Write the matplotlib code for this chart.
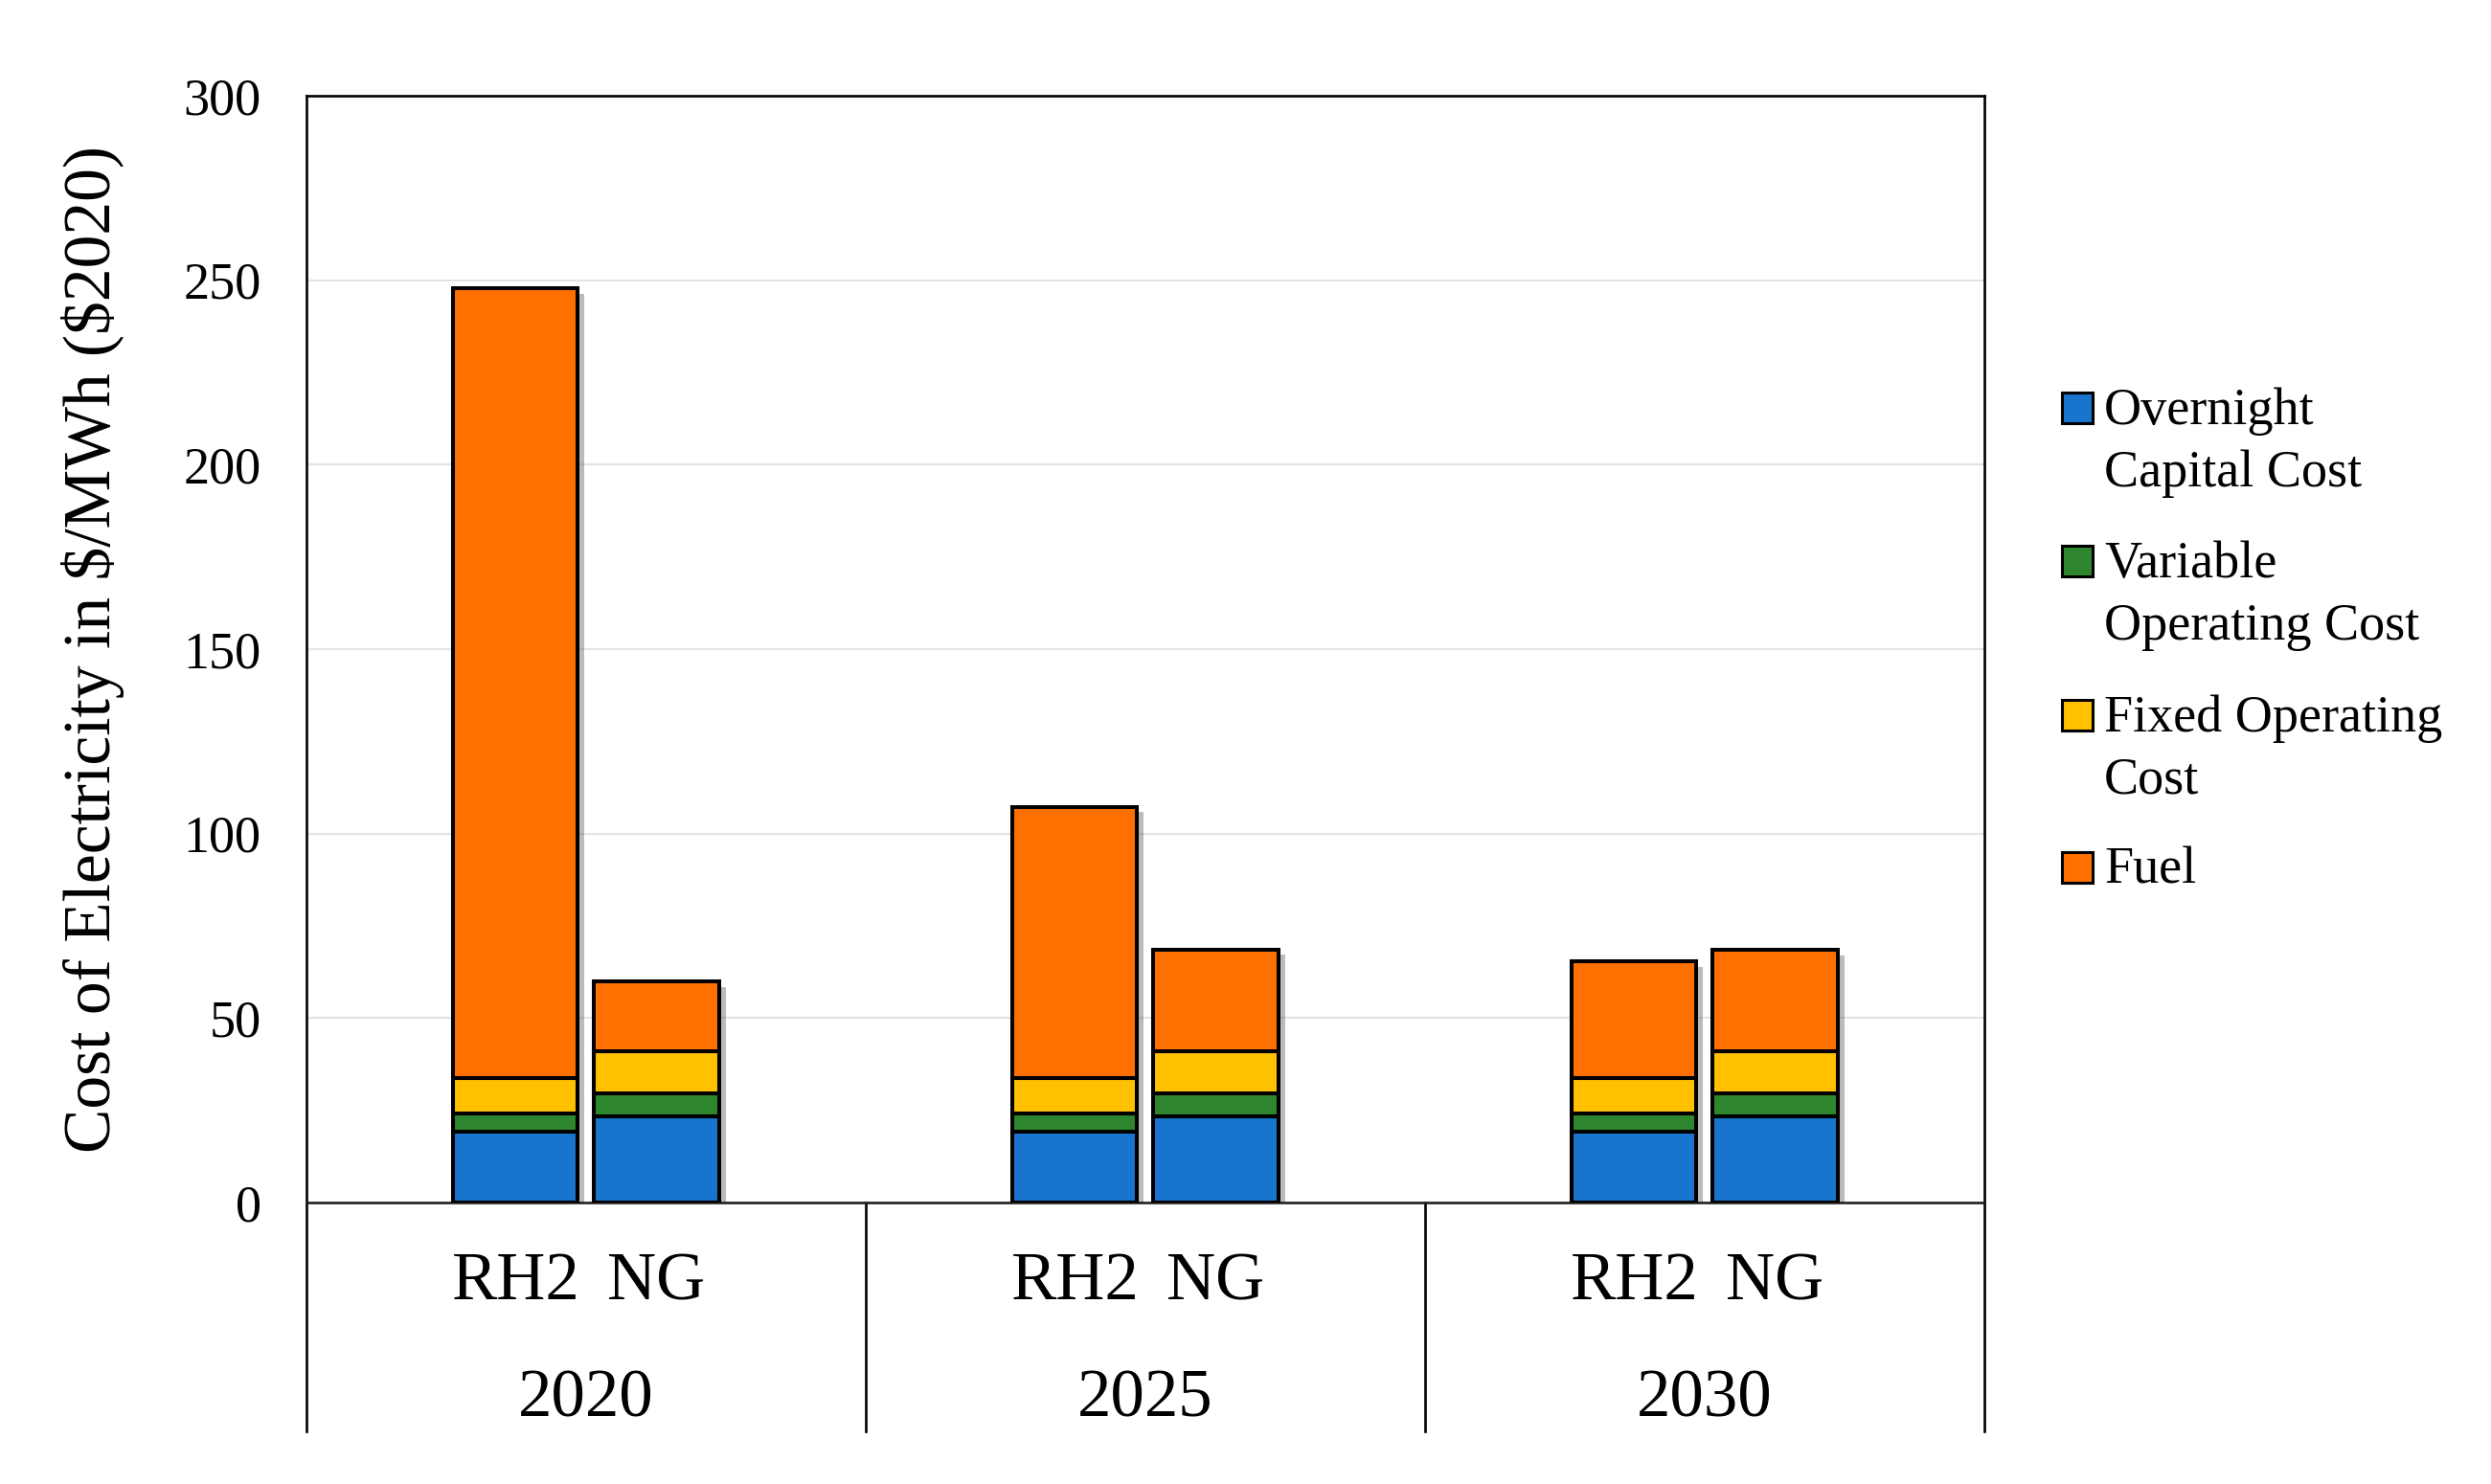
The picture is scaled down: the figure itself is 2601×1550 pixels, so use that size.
import matplotlib.pyplot as plt
import matplotlib.patheffects as pe
from matplotlib.patches import Rectangle
import numpy as np

plt.rcParams['font.family'] = ['Liberation Serif', 'DejaVu Serif']

years = ['2020', '2025', '2030']
techs = ['RH2', 'NG']
series = ['Overnight\nCapital Cost', 'Variable\nOperating Cost', 'Fixed Operating\nCost', 'Fuel']
colors = ['#1874CD', '#2E862E', '#FFC000', '#FF7000']

# values per series, for each year: RH2 then NG
capital_rh2 = [19.2, 19.2, 19.2]
capital_ng = [23.3, 23.3, 23.3]
var_rh2 = [4.9, 4.9, 4.9]
var_ng = [6.3, 6.3, 6.3]
fixed_rh2 = [9.6, 9.6, 9.6]
fixed_ng = [11.4, 11.4, 11.4]
fuel_rh2 = [214.1, 73.6, 31.6]
fuel_ng = [18.9, 27.6, 27.4]

rh2 = [capital_rh2, var_rh2, fixed_rh2, fuel_rh2]
ng = [capital_ng, var_ng, fixed_ng, fuel_ng]

fig = plt.figure(figsize=(26.01, 15.5), dpi=100)
ax = fig.add_axes([0.1230, 0.1897, 0.6736, 0.7458])

x = np.arange(len(years))
w = 0.223
off = 0.126

for pos, data in [(x - off, rh2), (x + off, ng)]:
    total = np.sum(data, axis=0)
    # shadow behind whole stack
    ax.bar(pos, total, w, color='none', edgecolor='none', zorder=2,
           path_effects=[pe.SimplePatchShadow(offset=(5, -4), shadow_rgbFace='#555555', alpha=0.4)])
    bottom = np.zeros(len(years))
    for vals, c in zip(data, colors):
        ax.bar(pos, vals, w, bottom=bottom, color=c, edgecolor='black', linewidth=2.9, zorder=3)
        bottom = bottom + np.array(vals)

ax.set_ylim(0, 300)
ax.set_xlim(-0.5, 2.5)
ax.set_yticks(np.arange(0, 301, 50))
ax.tick_params(axis='y', length=0, pad=34, labelsize=39)
ax.yaxis.grid(True, color='#e4e4e4', linewidth=1.6, zorder=0)
ax.set_axisbelow(True)

ax.set_xticks(np.concatenate([x - off, x + off]))
ax.set_xticklabels(techs[:1] * 3 + techs[1:] * 3)
ax.tick_params(axis='x', length=0, pad=37, labelsize=51)

for s in ax.spines.values():
    s.set_linewidth(1.9)
ax.spines['bottom'].set_color('#222222')

ax.set_ylabel(r'Cost of Electricity in \$/MWh (\$2020)', fontsize=50, labelpad=44)

# category separators below the axis
trans = ax.get_xaxis_transform()
for b in np.arange(-0.5, len(years), 1.0):
    ax.plot([b, b], [0, -0.207], color='black', linewidth=1.9, transform=trans, clip_on=False)
for i, yr in enumerate(years):
    ax.text(x[i], -0.178, yr, transform=trans, ha='center', va='center', fontsize=51)

# legend, marker next to the first line of each label
leg_y = [426, 586, 747, 906]
for lab, c, yy in zip(series, colors, leg_y):
    yf = 1 - yy / 1550
    fig.patches.append(Rectangle((2153 / 2601, yf - 16 / 1550), 32 / 2601, 32 / 1550,
                                 facecolor=c, edgecolor='black', linewidth=2.2,
                                 transform=fig.transFigure, figure=fig))
    fig.text(2197 / 2601, yf + 22 / 1550, lab, ha='left', va='top', fontsize=39, linespacing=1.38)

fig.savefig('out.png', dpi=100)
